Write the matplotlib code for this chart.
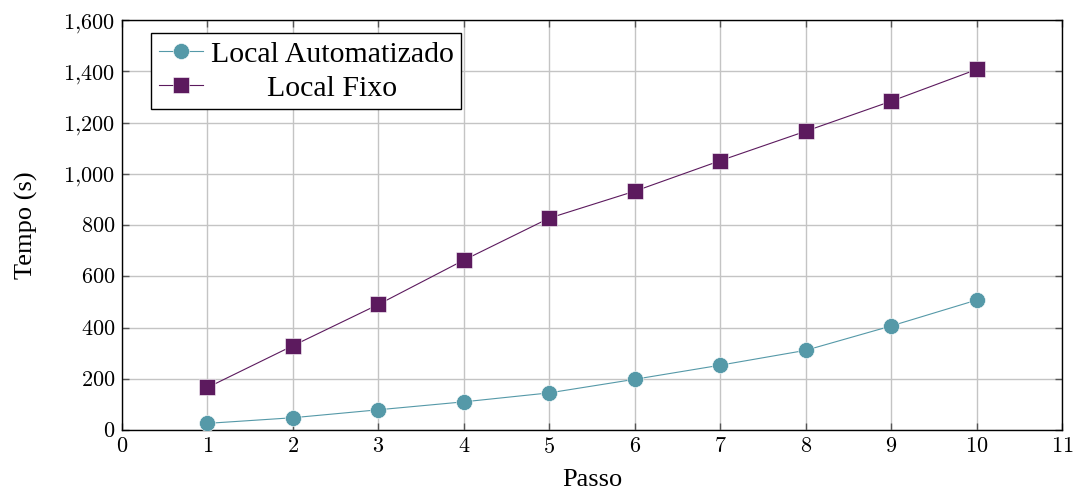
import matplotlib
matplotlib.use("Agg")
import matplotlib.pyplot as plt
from matplotlib.ticker import FuncFormatter, MultipleLocator

# Tempo por passo para cada configuração
passos = [1, 2, 3, 4, 5, 6, 7, 8, 9, 10]
tempo_auto = [26, 48, 79, 110, 145, 198, 253, 311, 406, 507]
tempo_fixo = [166, 329, 490, 663, 827, 932, 1051, 1166, 1283, 1407]

cor_auto = "#5599a8"
cor_fixo = "#5c1a5e"

plt.rcParams["mathtext.fontset"] = "cm"
plt.rcParams["font.family"] = ["Liberation Serif", "DejaVu Serif"]

fig = plt.figure(figsize=(10.77, 4.98), dpi=100)
ax = fig.add_axes([0.1133, 0.1365, 0.8728, 0.8233])

ax.plot(passos, tempo_auto, color=cor_auto, lw=0.8, marker="o", ms=11.5,
        mec="white", mew=0.4, label="Local Automatizado", zorder=3)
ax.plot(passos, tempo_fixo, color=cor_fixo, lw=0.8, marker="s", ms=11,
        mec="white", mew=0.4, label="Local Fixo", zorder=3)

ax.set_xlim(0, 11)
ax.set_ylim(0, 1600)
ax.xaxis.set_major_locator(MultipleLocator(1))
ax.yaxis.set_major_locator(MultipleLocator(200))
ax.xaxis.set_major_formatter(FuncFormatter(lambda v, p: f"${v:.0f}$"))
ax.yaxis.set_major_formatter(
    FuncFormatter(lambda v, p: "$" + f"{v:,.0f}".replace(",", "{,}") + "$"))
ax.tick_params(axis="both", direction="in", length=5, width=1,
               color="#555555", labelsize=16, top=True, right=True)
ax.tick_params(axis="x", pad=6)
ax.tick_params(axis="y", pad=5)

ax.grid(True, color="#c4c4c4", lw=1)
ax.set_axisbelow(True)
for s in ax.spines.values():
    s.set_color("black")
    s.set_linewidth(1)

ax.set_xlabel("Passo", fontsize=19, labelpad=8)
ax.set_ylabel("Tempo (s)", fontsize=19, labelpad=18)

leg = ax.legend(loc="upper left", bbox_to_anchor=(0.031, 0.968),
                borderaxespad=0, fontsize=21.5, frameon=True, fancybox=False,
                framealpha=1, edgecolor="black", handlelength=1.5,
                handletextpad=0.25, borderpad=0.25, labelspacing=0.25)
leg.get_frame().set_linewidth(1)

# centraliza os rótulos da legenda na coluna
fig.canvas.draw()
r = fig.canvas.get_renderer()
textos = leg.get_texts()
larguras = [t.get_window_extent(r).width for t in textos]
wmax = max(larguras)
for t, w in zip(textos, larguras):
    t.set_x((wmax - w) / 2)

fig.savefig("out.png", dpi=100)
